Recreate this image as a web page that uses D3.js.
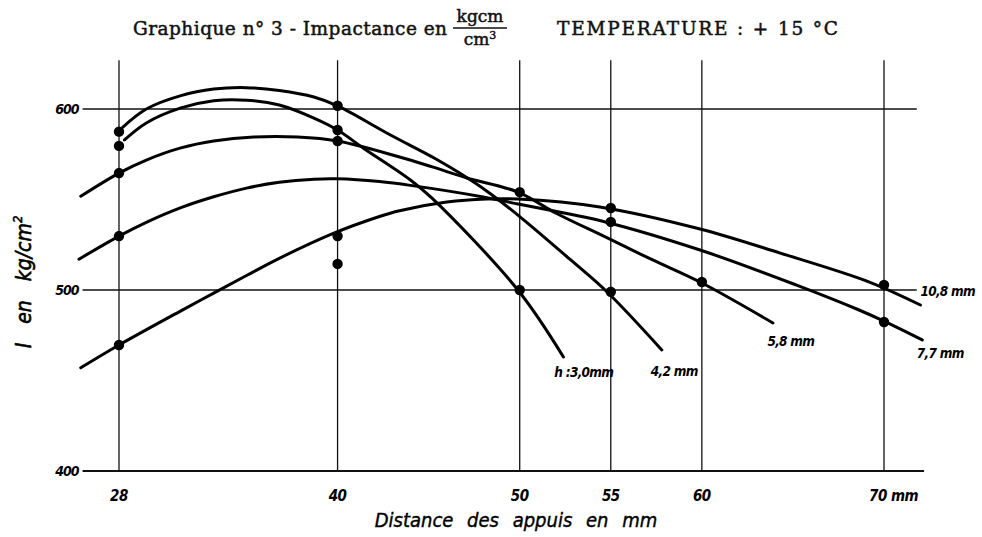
<!DOCTYPE html>
<html>
<head>
<meta charset="utf-8">
<script src="https://cdn.jsdelivr.net/npm/d3@7"></script>
<style>
  body { margin: 0; background: #fff; }
  svg { display: block; }
  .hand { font-family: "DejaVu Sans Condensed", "DejaVu Sans", sans-serif; font-style: italic; }
</style>
</head>
<body>
<script>
// x ticks (distance des appuis, mm) and y ticks (kg/cm2)
var xTicks = [28, 40, 50, 55, 60, 70];
var yTicks = [400, 500, 600];

// curves: [mm, I]
var h30 = [[28.3, 582.9], [29.5, 592.3], [31.4, 600.6], [33.2, 604.6], [35.0, 604.9],
  [36.8, 602.2], [38.7, 595.0], [40.0, 588.4], [41.4, 578.5], [44.0, 560.8], [45.2, 550.6],
  [49.9, 500.0], [52.4, 463.0]];
var h42 = [[28.2, 589.9], [29.5, 600.0], [31.4, 607.4], [33.2, 611.0], [35.0, 611.8], [36.8, 610.2],
  [38.7, 606.6], [40.0, 601.7], [42.8, 586.2], [45.4, 572.4], [46.7, 564.6], [48.2, 554.6],
  [49.9, 541.4], [52.8, 516.6], [54.8, 498.9], [57.8, 466.9]];
var h58 = [[25.9, 551.8], [28.0, 564.6], [29.5, 571.8], [31.4, 578.5], [33.2, 582.3], [35.4, 584.5],
  [37.8, 584.5], [40.0, 582.3], [43.4, 573.5], [45.2, 568.0], [47.1, 561.9], [49.9, 554.1],
  [52.0, 542.4], [54.7, 529.3], [57.3, 516.6], [59.9, 504.4], [63.9, 481.8]];
var h77 = [[25.8, 517.0], [28.0, 529.8], [29.5, 537.4], [31.4, 545.5], [33.2, 551.5], [35.0, 556.3],
  [36.8, 559.5], [38.7, 561.2], [40.0, 561.4], [42.3, 559.9], [44.0, 557.8], [48.0, 551.4],
  [49.9, 547.5], [54.7, 537.6], [59.9, 522.1], [65.2, 502.7], [68.5, 489.5], [70.0, 482.8],
  [72.1, 472.4]];
var h108 = [[25.9, 457.0], [28.0, 469.6], [31.4, 488.5], [33.2, 498.3], [35.0, 508.0], [36.8, 517.5],
  [39.7, 531.0], [42.3, 540.6], [43.4, 543.8], [46.0, 548.6], [48.2, 550.3], [49.9, 550.3],
  [54.4, 545.9], [59.9, 533.7], [64.3, 520.4], [69.2, 504.4], [72.0, 491.7]];

// measured points
var dots = [[28, 587.5], [28, 579.6], [28, 564.6], [28, 529.8], [28, 469.6],
  [40, 601.8], [40, 588.4], [40, 582.3], [40, 529.8], [40, 514.4],
  [50, 554.1], [50, 500], [55, 545.3], [55, 537.6], [55, 499],
  [60, 504.4], [70, 502.8], [70, 482.3]];

var curveLabels = [
  { text: "h :3,0mm", at: [51.9, 452] },
  { text: "4,2 mm", at: [57.2, 452.5] },
  { text: "5,8 mm", at: [63.6, 469] },
  { text: "7,7 mm", at: [71.8, 462.5] },
  { text: "10,8 mm", at: [72.0, 496.5] }
];

var W = 982, H = 537;
var svg = d3.select("body").append("svg")
  .attr("width", W)
  .attr("height", H);

var x = d3.scaleLinear().domain([28, 70]).range([119, 884]);
var y = d3.scaleLinear().domain([400, 600]).range([471, 109]);

// vertical grid
svg.selectAll(".vgrid")
  .data(xTicks)
  .enter().append("line")
    .attr("x1", function(d) { return x(d); })
    .attr("x2", function(d) { return x(d); })
    .attr("y1", y(627))
    .attr("y2", y(400))
    .attr("stroke", "#111")
    .attr("stroke-width", 1.3);

// horizontal grid + base line
svg.selectAll(".hgrid")
  .data(yTicks)
  .enter().append("line")
    .attr("x1", x(26))
    .attr("x2", function(d) { return d == 400 ? x(72.2) : x(71.8); })
    .attr("y1", function(d) { return y(d); })
    .attr("y2", function(d) { return y(d); })
    .attr("stroke", "#111")
    .attr("stroke-width", function(d) { return d == 400 ? 2.2 : 1.3; });

// tick labels
svg.selectAll(".ylab")
  .data(yTicks)
  .enter().append("text")
    .attr("class", "hand")
    .attr("x", x(26) - 4)
    .attr("y", function(d) { return y(d) + 5; })
    .attr("text-anchor", "end")
    .attr("font-size", 14)
    .attr("font-weight", "bold")
    .attr("letter-spacing", -1)
    .text(function(d) { return d; });

svg.selectAll(".xlab")
  .data(xTicks)
  .enter().append("text")
    .attr("class", "hand")
    .attr("x", function(d) { return d == 70 ? x(d) - 15 : x(d); })
    .attr("y", y(400) + 30)
    .attr("text-anchor", function(d) { return d == 70 ? "start" : "middle"; })
    .attr("font-size", 15)
    .attr("font-weight", "bold")
    .attr("letter-spacing", -0.5)
    .text(function(d) { return d == 70 ? d + " mm" : d; });

// curves
var line = d3.line()
  .x(function(d) { return x(d[0]); })
  .y(function(d) { return y(d[1]); })
  .curve(d3.curveCatmullRom.alpha(0.5));

svg.selectAll(".curve")
  .data([h30, h42, h58, h77, h108])
  .enter().append("path")
    .attr("d", line)
    .attr("fill", "none")
    .attr("stroke", "#000")
    .attr("stroke-width", 3)
    .attr("stroke-linecap", "round");

svg.selectAll(".dot")
  .data(dots)
  .enter().append("circle")
    .attr("cx", function(d) { return x(d[0]); })
    .attr("cy", function(d) { return y(d[1]); })
    .attr("r", 5.2)
    .attr("fill", "#000");

svg.selectAll(".clab")
  .data(curveLabels)
  .enter().append("text")
    .attr("class", "hand")
    .attr("x", function(d) { return x(d.at[0]); })
    .attr("y", function(d) { return y(d.at[1]); })
    .attr("font-size", 13.5)
    .attr("font-weight", "bold")
    .attr("letter-spacing", -0.7)
    .text(function(d) { return d.text; });

// axis titles
svg.append("text")
  .attr("class", "hand")
  .attr("x", 516)
  .attr("y", 527)
  .attr("text-anchor", "middle")
  .attr("font-size", 20)
  .attr("word-spacing", 8)
  .attr("stroke", "#000")
  .attr("stroke-width", 0.4)
  .text("Distance des appuis en mm");

svg.append("text")
  .attr("class", "hand")
  .attr("transform", "translate(31," + 282 + ") rotate(-90)")
  .attr("text-anchor", "middle")
  .attr("font-size", 21)
  .attr("word-spacing", 13)
  .attr("stroke", "#000")
  .attr("stroke-width", 0.6)
  .html("I en kg/cm<tspan font-size='13' dy='-9'>2</tspan>");

// title with the kgcm / cm3 fraction
var title = svg.append("g")
  .attr("font-family", "'DejaVu Serif', 'Liberation Serif', serif")
  .attr("fill", "#111")
  .attr("stroke", "#111")
  .attr("stroke-width", 0.5);

title.append("text")
  .attr("x", 133)
  .attr("y", 35)
  .attr("font-size", 18.5)
  .attr("textLength", 314)
  .text("Graphique n° 3 - Impactance en");

title.append("text")
  .attr("x", 480)
  .attr("y", 22)
  .attr("text-anchor", "middle")
  .attr("font-size", 17)
  .text("kgcm");

title.append("line")
  .attr("x1", 453)
  .attr("x2", 507)
  .attr("y1", 28)
  .attr("y2", 28)
  .attr("stroke-width", 1.6);

title.append("text")
  .attr("x", 480)
  .attr("y", 45)
  .attr("text-anchor", "middle")
  .attr("font-size", 17)
  .html("cm<tspan font-size='11' dy='-6'>3</tspan>");

title.append("text")
  .attr("x", 557)
  .attr("y", 35)
  .attr("font-size", 18.5)
  .attr("textLength", 281)
  .text("TEMPERATURE : + 15 °C");
</script>
</body>
</html>
